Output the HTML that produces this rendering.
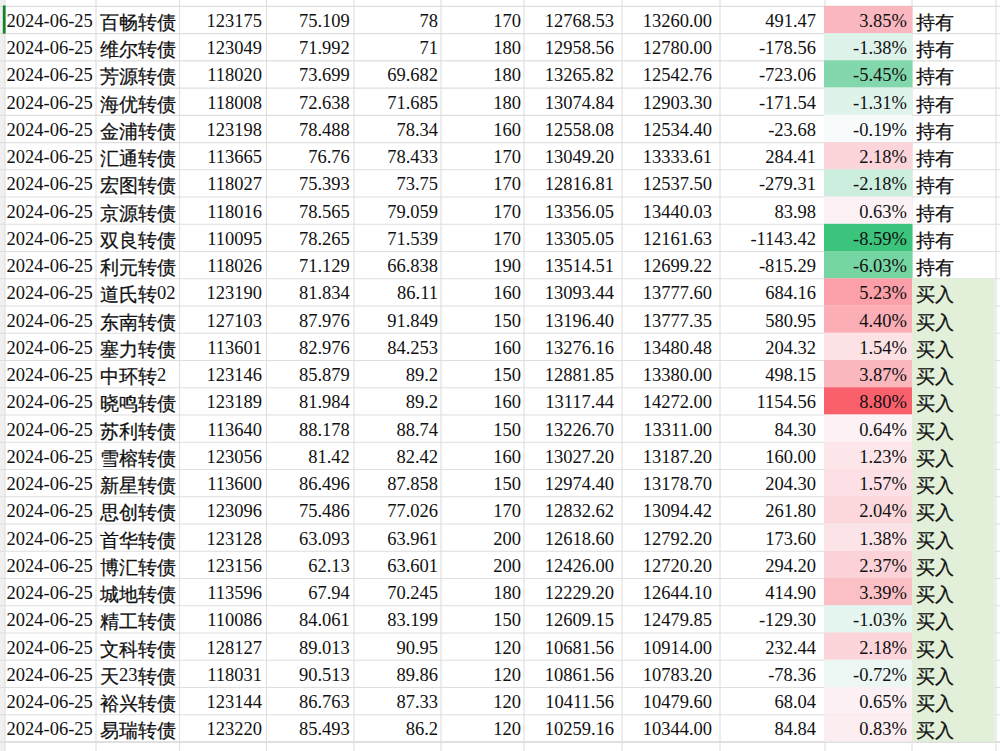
<!DOCTYPE html>
<html lang="en"><head><meta charset="utf-8">
<style>
html,body{margin:0;padding:0;background:#fff;}
body{width:1000px;height:751px;overflow:hidden;position:relative;font-family:"Liberation Serif",serif;font-size:18.5px;color:#111;}
svg{position:absolute;left:0;top:0;}
.t{position:absolute;white-space:nowrap;line-height:27px;height:27px;}
.r{text-align:right;}
.c{position:relative;top:2px;-webkit-text-stroke:0.25px #111}
</style></head><body>
<svg width="1000" height="751" viewBox="0 0 1000 751">
<rect x="0" y="0" width="5.0" height="751" fill="#f0f0f0"/>
<line x1="0" y1="6.34" x2="1000" y2="6.34" stroke="#dedede" stroke-width="1.1"/>
<line x1="0" y1="33.59" x2="1000" y2="33.59" stroke="#dedede" stroke-width="1.1"/>
<line x1="0" y1="60.83" x2="1000" y2="60.83" stroke="#dedede" stroke-width="1.1"/>
<line x1="0" y1="88.08" x2="1000" y2="88.08" stroke="#dedede" stroke-width="1.1"/>
<line x1="0" y1="115.33" x2="1000" y2="115.33" stroke="#dedede" stroke-width="1.1"/>
<line x1="0" y1="142.58" x2="1000" y2="142.58" stroke="#dedede" stroke-width="1.1"/>
<line x1="0" y1="169.82" x2="1000" y2="169.82" stroke="#dedede" stroke-width="1.1"/>
<line x1="0" y1="197.07" x2="1000" y2="197.07" stroke="#dedede" stroke-width="1.1"/>
<line x1="0" y1="224.32" x2="1000" y2="224.32" stroke="#dedede" stroke-width="1.1"/>
<line x1="0" y1="251.56" x2="1000" y2="251.56" stroke="#dedede" stroke-width="1.1"/>
<line x1="0" y1="278.81" x2="1000" y2="278.81" stroke="#dedede" stroke-width="1.1"/>
<line x1="0" y1="306.06" x2="1000" y2="306.06" stroke="#dedede" stroke-width="1.1"/>
<line x1="0" y1="333.30" x2="1000" y2="333.30" stroke="#dedede" stroke-width="1.1"/>
<line x1="0" y1="360.55" x2="1000" y2="360.55" stroke="#dedede" stroke-width="1.1"/>
<line x1="0" y1="387.80" x2="1000" y2="387.80" stroke="#dedede" stroke-width="1.1"/>
<line x1="0" y1="415.04" x2="1000" y2="415.04" stroke="#dedede" stroke-width="1.1"/>
<line x1="0" y1="442.29" x2="1000" y2="442.29" stroke="#dedede" stroke-width="1.1"/>
<line x1="0" y1="469.54" x2="1000" y2="469.54" stroke="#dedede" stroke-width="1.1"/>
<line x1="0" y1="496.79" x2="1000" y2="496.79" stroke="#dedede" stroke-width="1.1"/>
<line x1="0" y1="524.03" x2="1000" y2="524.03" stroke="#dedede" stroke-width="1.1"/>
<line x1="0" y1="551.28" x2="1000" y2="551.28" stroke="#dedede" stroke-width="1.1"/>
<line x1="0" y1="578.53" x2="1000" y2="578.53" stroke="#dedede" stroke-width="1.1"/>
<line x1="0" y1="605.77" x2="1000" y2="605.77" stroke="#dedede" stroke-width="1.1"/>
<line x1="0" y1="633.02" x2="1000" y2="633.02" stroke="#dedede" stroke-width="1.1"/>
<line x1="0" y1="660.27" x2="1000" y2="660.27" stroke="#dedede" stroke-width="1.1"/>
<line x1="0" y1="687.51" x2="1000" y2="687.51" stroke="#dedede" stroke-width="1.1"/>
<line x1="0" y1="714.76" x2="1000" y2="714.76" stroke="#dedede" stroke-width="1.1"/>
<line x1="0" y1="742.01" x2="1000" y2="742.01" stroke="#dedede" stroke-width="1.1"/>
<line x1="5.0" y1="0" x2="5.0" y2="751" stroke="#dedede" stroke-width="1.1"/>
<line x1="96.0" y1="0" x2="96.0" y2="751" stroke="#dedede" stroke-width="1.1"/>
<line x1="179.5" y1="0" x2="179.5" y2="751" stroke="#dedede" stroke-width="1.1"/>
<line x1="266.5" y1="0" x2="266.5" y2="751" stroke="#dedede" stroke-width="1.1"/>
<line x1="354.0" y1="0" x2="354.0" y2="751" stroke="#dedede" stroke-width="1.1"/>
<line x1="441.0" y1="0" x2="441.0" y2="751" stroke="#dedede" stroke-width="1.1"/>
<line x1="524.0" y1="0" x2="524.0" y2="751" stroke="#dedede" stroke-width="1.1"/>
<line x1="622.0" y1="0" x2="622.0" y2="751" stroke="#dedede" stroke-width="1.1"/>
<line x1="720.0" y1="0" x2="720.0" y2="751" stroke="#dedede" stroke-width="1.1"/>
<line x1="825.0" y1="0" x2="825.0" y2="751" stroke="#dedede" stroke-width="1.1"/>
<line x1="912.0" y1="0" x2="912.0" y2="751" stroke="#dedede" stroke-width="1.1"/>
<line x1="996.0" y1="0" x2="996.0" y2="751" stroke="#dedede" stroke-width="1.1"/>
<line x1="0" y1="742.01" x2="1000" y2="742.01" stroke="#e0e0e0" stroke-width="1.8"/>
<rect x="824.0" y="5.84" width="88.5" height="27.25" fill="rgb(251, 183, 191)"/>
<rect x="824.0" y="33.09" width="88.5" height="27.25" fill="rgb(221, 243, 234)"/>
<rect x="824.0" y="60.33" width="88.5" height="27.25" fill="rgb(130, 216, 172)"/>
<rect x="824.0" y="87.58" width="88.5" height="27.25" fill="rgb(223, 243, 235)"/>
<rect x="824.0" y="114.83" width="88.5" height="27.25" fill="rgb(248, 251, 252)"/>
<rect x="824.0" y="142.08" width="88.5" height="27.25" fill="rgb(252, 213, 219)"/>
<rect x="824.0" y="169.32" width="88.5" height="27.25" fill="rgb(203, 238, 222)"/>
<rect x="824.0" y="196.57" width="88.5" height="27.25" fill="rgb(252, 241, 244)"/>
<rect x="824.0" y="223.82" width="88.5" height="27.25" fill="rgb(60, 196, 124)"/>
<rect x="824.0" y="251.06" width="88.5" height="27.25" fill="rgb(117, 213, 163)"/>
<rect x="824.0" y="278.31" width="88.5" height="27.25" fill="rgb(251, 159, 168)"/>
<rect x="824.0" y="305.56" width="88.5" height="27.25" fill="rgb(251, 174, 182)"/>
<rect x="824.0" y="332.80" width="88.5" height="27.25" fill="rgb(252, 225, 229)"/>
<rect x="824.0" y="360.05" width="88.5" height="27.25" fill="rgb(251, 183, 190)"/>
<rect x="824.0" y="387.30" width="88.5" height="27.25" fill="rgb(250, 95, 108)"/>
<rect x="824.0" y="414.54" width="88.5" height="27.25" fill="rgb(252, 241, 244)"/>
<rect x="824.0" y="441.79" width="88.5" height="27.25" fill="rgb(252, 230, 234)"/>
<rect x="824.0" y="469.04" width="88.5" height="27.25" fill="rgb(252, 224, 229)"/>
<rect x="824.0" y="496.29" width="88.5" height="27.25" fill="rgb(252, 216, 221)"/>
<rect x="824.0" y="523.53" width="88.5" height="27.25" fill="rgb(252, 227, 232)"/>
<rect x="824.0" y="550.78" width="88.5" height="27.25" fill="rgb(251, 210, 215)"/>
<rect x="824.0" y="578.03" width="88.5" height="27.25" fill="rgb(251, 192, 198)"/>
<rect x="824.0" y="605.27" width="88.5" height="27.25" fill="rgb(229, 245, 239)"/>
<rect x="824.0" y="632.52" width="88.5" height="27.25" fill="rgb(252, 213, 219)"/>
<rect x="824.0" y="659.77" width="88.5" height="27.25" fill="rgb(236, 247, 244)"/>
<rect x="824.0" y="687.01" width="88.5" height="27.25" fill="rgb(252, 240, 244)"/>
<rect x="824.0" y="714.26" width="88.5" height="27.25" fill="rgb(252, 237, 241)"/>
<rect x="912.0" y="278.31" width="82.79999999999995" height="463.20" fill="#e2f0d9"/>
<rect x="2.8" y="5.54" width="2.8" height="28.047" fill="#15822a"/>
</svg>
<div class="t" style="top:8.00px;left:6.5px">2024-06-25</div>
<div class="t" style="top:8.00px;left:100px"><span class="c">百畅转债</span></div>
<div class="t r" style="top:8.00px;right:738.05px">123175</div>
<div class="t r" style="top:8.00px;right:650.20px">75.109</div>
<div class="t r" style="top:8.00px;right:562.00px">78</div>
<div class="t r" style="top:8.00px;right:478.90px">170</div>
<div class="t r" style="top:8.00px;right:386.00px">12768.53</div>
<div class="t r" style="top:8.00px;right:288.00px">13260.00</div>
<div class="t r" style="top:8.00px;right:184.00px">491.47</div>
<div class="t r" style="top:8.00px;right:93.00px">3.85%</div>
<div class="t" style="top:8.00px;left:915.5px"><span class="c">持有</span></div>
<div class="t" style="top:35.00px;left:6.5px">2024-06-25</div>
<div class="t" style="top:35.00px;left:100px"><span class="c">维尔转债</span></div>
<div class="t r" style="top:35.00px;right:738.05px">123049</div>
<div class="t r" style="top:35.00px;right:650.20px">71.992</div>
<div class="t r" style="top:35.00px;right:562.00px">71</div>
<div class="t r" style="top:35.00px;right:478.90px">180</div>
<div class="t r" style="top:35.00px;right:386.00px">12958.56</div>
<div class="t r" style="top:35.00px;right:288.00px">12780.00</div>
<div class="t r" style="top:35.00px;right:184.00px">-178.56</div>
<div class="t r" style="top:35.00px;right:93.00px">-1.38%</div>
<div class="t" style="top:35.00px;left:915.5px"><span class="c">持有</span></div>
<div class="t" style="top:62.00px;left:6.5px">2024-06-25</div>
<div class="t" style="top:62.00px;left:100px"><span class="c">芳源转债</span></div>
<div class="t r" style="top:62.00px;right:738.05px">118020</div>
<div class="t r" style="top:62.00px;right:650.20px">73.699</div>
<div class="t r" style="top:62.00px;right:562.00px">69.682</div>
<div class="t r" style="top:62.00px;right:478.90px">180</div>
<div class="t r" style="top:62.00px;right:386.00px">13265.82</div>
<div class="t r" style="top:62.00px;right:288.00px">12542.76</div>
<div class="t r" style="top:62.00px;right:184.00px">-723.06</div>
<div class="t r" style="top:62.00px;right:93.00px">-5.45%</div>
<div class="t" style="top:62.00px;left:915.5px"><span class="c">持有</span></div>
<div class="t" style="top:90.00px;left:6.5px">2024-06-25</div>
<div class="t" style="top:90.00px;left:100px"><span class="c">海优转债</span></div>
<div class="t r" style="top:90.00px;right:738.05px">118008</div>
<div class="t r" style="top:90.00px;right:650.20px">72.638</div>
<div class="t r" style="top:90.00px;right:562.00px">71.685</div>
<div class="t r" style="top:90.00px;right:478.90px">180</div>
<div class="t r" style="top:90.00px;right:386.00px">13074.84</div>
<div class="t r" style="top:90.00px;right:288.00px">12903.30</div>
<div class="t r" style="top:90.00px;right:184.00px">-171.54</div>
<div class="t r" style="top:90.00px;right:93.00px">-1.31%</div>
<div class="t" style="top:90.00px;left:915.5px"><span class="c">持有</span></div>
<div class="t" style="top:117.00px;left:6.5px">2024-06-25</div>
<div class="t" style="top:117.00px;left:100px"><span class="c">金浦转债</span></div>
<div class="t r" style="top:117.00px;right:738.05px">123198</div>
<div class="t r" style="top:117.00px;right:650.20px">78.488</div>
<div class="t r" style="top:117.00px;right:562.00px">78.34</div>
<div class="t r" style="top:117.00px;right:478.90px">160</div>
<div class="t r" style="top:117.00px;right:386.00px">12558.08</div>
<div class="t r" style="top:117.00px;right:288.00px">12534.40</div>
<div class="t r" style="top:117.00px;right:184.00px">-23.68</div>
<div class="t r" style="top:117.00px;right:93.00px">-0.19%</div>
<div class="t" style="top:117.00px;left:915.5px"><span class="c">持有</span></div>
<div class="t" style="top:144.00px;left:6.5px">2024-06-25</div>
<div class="t" style="top:144.00px;left:100px"><span class="c">汇通转债</span></div>
<div class="t r" style="top:144.00px;right:738.05px">113665</div>
<div class="t r" style="top:144.00px;right:650.20px">76.76</div>
<div class="t r" style="top:144.00px;right:562.00px">78.433</div>
<div class="t r" style="top:144.00px;right:478.90px">170</div>
<div class="t r" style="top:144.00px;right:386.00px">13049.20</div>
<div class="t r" style="top:144.00px;right:288.00px">13333.61</div>
<div class="t r" style="top:144.00px;right:184.00px">284.41</div>
<div class="t r" style="top:144.00px;right:93.00px">2.18%</div>
<div class="t" style="top:144.00px;left:915.5px"><span class="c">持有</span></div>
<div class="t" style="top:171.00px;left:6.5px">2024-06-25</div>
<div class="t" style="top:171.00px;left:100px"><span class="c">宏图转债</span></div>
<div class="t r" style="top:171.00px;right:738.05px">118027</div>
<div class="t r" style="top:171.00px;right:650.20px">75.393</div>
<div class="t r" style="top:171.00px;right:562.00px">73.75</div>
<div class="t r" style="top:171.00px;right:478.90px">170</div>
<div class="t r" style="top:171.00px;right:386.00px">12816.81</div>
<div class="t r" style="top:171.00px;right:288.00px">12537.50</div>
<div class="t r" style="top:171.00px;right:184.00px">-279.31</div>
<div class="t r" style="top:171.00px;right:93.00px">-2.18%</div>
<div class="t" style="top:171.00px;left:915.5px"><span class="c">持有</span></div>
<div class="t" style="top:199.00px;left:6.5px">2024-06-25</div>
<div class="t" style="top:199.00px;left:100px"><span class="c">京源转债</span></div>
<div class="t r" style="top:199.00px;right:738.05px">118016</div>
<div class="t r" style="top:199.00px;right:650.20px">78.565</div>
<div class="t r" style="top:199.00px;right:562.00px">79.059</div>
<div class="t r" style="top:199.00px;right:478.90px">170</div>
<div class="t r" style="top:199.00px;right:386.00px">13356.05</div>
<div class="t r" style="top:199.00px;right:288.00px">13440.03</div>
<div class="t r" style="top:199.00px;right:184.00px">83.98</div>
<div class="t r" style="top:199.00px;right:93.00px">0.63%</div>
<div class="t" style="top:199.00px;left:915.5px"><span class="c">持有</span></div>
<div class="t" style="top:226.00px;left:6.5px">2024-06-25</div>
<div class="t" style="top:226.00px;left:100px"><span class="c">双良转债</span></div>
<div class="t r" style="top:226.00px;right:738.05px">110095</div>
<div class="t r" style="top:226.00px;right:650.20px">78.265</div>
<div class="t r" style="top:226.00px;right:562.00px">71.539</div>
<div class="t r" style="top:226.00px;right:478.90px">170</div>
<div class="t r" style="top:226.00px;right:386.00px">13305.05</div>
<div class="t r" style="top:226.00px;right:288.00px">12161.63</div>
<div class="t r" style="top:226.00px;right:184.00px">-1143.42</div>
<div class="t r" style="top:226.00px;right:93.00px">-8.59%</div>
<div class="t" style="top:226.00px;left:915.5px"><span class="c">持有</span></div>
<div class="t" style="top:253.00px;left:6.5px">2024-06-25</div>
<div class="t" style="top:253.00px;left:100px"><span class="c">利元转债</span></div>
<div class="t r" style="top:253.00px;right:738.05px">118026</div>
<div class="t r" style="top:253.00px;right:650.20px">71.129</div>
<div class="t r" style="top:253.00px;right:562.00px">66.838</div>
<div class="t r" style="top:253.00px;right:478.90px">190</div>
<div class="t r" style="top:253.00px;right:386.00px">13514.51</div>
<div class="t r" style="top:253.00px;right:288.00px">12699.22</div>
<div class="t r" style="top:253.00px;right:184.00px">-815.29</div>
<div class="t r" style="top:253.00px;right:93.00px">-6.03%</div>
<div class="t" style="top:253.00px;left:915.5px"><span class="c">持有</span></div>
<div class="t" style="top:280.00px;left:6.5px">2024-06-25</div>
<div class="t" style="top:280.00px;left:100px"><span class="c">道氏转</span>02</div>
<div class="t r" style="top:280.00px;right:738.05px">123190</div>
<div class="t r" style="top:280.00px;right:650.20px">81.834</div>
<div class="t r" style="top:280.00px;right:562.00px">86.11</div>
<div class="t r" style="top:280.00px;right:478.90px">160</div>
<div class="t r" style="top:280.00px;right:386.00px">13093.44</div>
<div class="t r" style="top:280.00px;right:288.00px">13777.60</div>
<div class="t r" style="top:280.00px;right:184.00px">684.16</div>
<div class="t r" style="top:280.00px;right:93.00px">5.23%</div>
<div class="t" style="top:280.00px;left:915.5px"><span class="c">买入</span></div>
<div class="t" style="top:308.00px;left:6.5px">2024-06-25</div>
<div class="t" style="top:308.00px;left:100px"><span class="c">东南转债</span></div>
<div class="t r" style="top:308.00px;right:738.05px">127103</div>
<div class="t r" style="top:308.00px;right:650.20px">87.976</div>
<div class="t r" style="top:308.00px;right:562.00px">91.849</div>
<div class="t r" style="top:308.00px;right:478.90px">150</div>
<div class="t r" style="top:308.00px;right:386.00px">13196.40</div>
<div class="t r" style="top:308.00px;right:288.00px">13777.35</div>
<div class="t r" style="top:308.00px;right:184.00px">580.95</div>
<div class="t r" style="top:308.00px;right:93.00px">4.40%</div>
<div class="t" style="top:308.00px;left:915.5px"><span class="c">买入</span></div>
<div class="t" style="top:335.00px;left:6.5px">2024-06-25</div>
<div class="t" style="top:335.00px;left:100px"><span class="c">塞力转债</span></div>
<div class="t r" style="top:335.00px;right:738.05px">113601</div>
<div class="t r" style="top:335.00px;right:650.20px">82.976</div>
<div class="t r" style="top:335.00px;right:562.00px">84.253</div>
<div class="t r" style="top:335.00px;right:478.90px">160</div>
<div class="t r" style="top:335.00px;right:386.00px">13276.16</div>
<div class="t r" style="top:335.00px;right:288.00px">13480.48</div>
<div class="t r" style="top:335.00px;right:184.00px">204.32</div>
<div class="t r" style="top:335.00px;right:93.00px">1.54%</div>
<div class="t" style="top:335.00px;left:915.5px"><span class="c">买入</span></div>
<div class="t" style="top:362.00px;left:6.5px">2024-06-25</div>
<div class="t" style="top:362.00px;left:100px"><span class="c">中环转</span>2</div>
<div class="t r" style="top:362.00px;right:738.05px">123146</div>
<div class="t r" style="top:362.00px;right:650.20px">85.879</div>
<div class="t r" style="top:362.00px;right:562.00px">89.2</div>
<div class="t r" style="top:362.00px;right:478.90px">150</div>
<div class="t r" style="top:362.00px;right:386.00px">12881.85</div>
<div class="t r" style="top:362.00px;right:288.00px">13380.00</div>
<div class="t r" style="top:362.00px;right:184.00px">498.15</div>
<div class="t r" style="top:362.00px;right:93.00px">3.87%</div>
<div class="t" style="top:362.00px;left:915.5px"><span class="c">买入</span></div>
<div class="t" style="top:389.00px;left:6.5px">2024-06-25</div>
<div class="t" style="top:389.00px;left:100px"><span class="c">晓鸣转债</span></div>
<div class="t r" style="top:389.00px;right:738.05px">123189</div>
<div class="t r" style="top:389.00px;right:650.20px">81.984</div>
<div class="t r" style="top:389.00px;right:562.00px">89.2</div>
<div class="t r" style="top:389.00px;right:478.90px">160</div>
<div class="t r" style="top:389.00px;right:386.00px">13117.44</div>
<div class="t r" style="top:389.00px;right:288.00px">14272.00</div>
<div class="t r" style="top:389.00px;right:184.00px">1154.56</div>
<div class="t r" style="top:389.00px;right:93.00px">8.80%</div>
<div class="t" style="top:389.00px;left:915.5px"><span class="c">买入</span></div>
<div class="t" style="top:417.00px;left:6.5px">2024-06-25</div>
<div class="t" style="top:417.00px;left:100px"><span class="c">苏利转债</span></div>
<div class="t r" style="top:417.00px;right:738.05px">113640</div>
<div class="t r" style="top:417.00px;right:650.20px">88.178</div>
<div class="t r" style="top:417.00px;right:562.00px">88.74</div>
<div class="t r" style="top:417.00px;right:478.90px">150</div>
<div class="t r" style="top:417.00px;right:386.00px">13226.70</div>
<div class="t r" style="top:417.00px;right:288.00px">13311.00</div>
<div class="t r" style="top:417.00px;right:184.00px">84.30</div>
<div class="t r" style="top:417.00px;right:93.00px">0.64%</div>
<div class="t" style="top:417.00px;left:915.5px"><span class="c">买入</span></div>
<div class="t" style="top:444.00px;left:6.5px">2024-06-25</div>
<div class="t" style="top:444.00px;left:100px"><span class="c">雪榕转债</span></div>
<div class="t r" style="top:444.00px;right:738.05px">123056</div>
<div class="t r" style="top:444.00px;right:650.20px">81.42</div>
<div class="t r" style="top:444.00px;right:562.00px">82.42</div>
<div class="t r" style="top:444.00px;right:478.90px">160</div>
<div class="t r" style="top:444.00px;right:386.00px">13027.20</div>
<div class="t r" style="top:444.00px;right:288.00px">13187.20</div>
<div class="t r" style="top:444.00px;right:184.00px">160.00</div>
<div class="t r" style="top:444.00px;right:93.00px">1.23%</div>
<div class="t" style="top:444.00px;left:915.5px"><span class="c">买入</span></div>
<div class="t" style="top:471.00px;left:6.5px">2024-06-25</div>
<div class="t" style="top:471.00px;left:100px"><span class="c">新星转债</span></div>
<div class="t r" style="top:471.00px;right:738.05px">113600</div>
<div class="t r" style="top:471.00px;right:650.20px">86.496</div>
<div class="t r" style="top:471.00px;right:562.00px">87.858</div>
<div class="t r" style="top:471.00px;right:478.90px">150</div>
<div class="t r" style="top:471.00px;right:386.00px">12974.40</div>
<div class="t r" style="top:471.00px;right:288.00px">13178.70</div>
<div class="t r" style="top:471.00px;right:184.00px">204.30</div>
<div class="t r" style="top:471.00px;right:93.00px">1.57%</div>
<div class="t" style="top:471.00px;left:915.5px"><span class="c">买入</span></div>
<div class="t" style="top:498.00px;left:6.5px">2024-06-25</div>
<div class="t" style="top:498.00px;left:100px"><span class="c">思创转债</span></div>
<div class="t r" style="top:498.00px;right:738.05px">123096</div>
<div class="t r" style="top:498.00px;right:650.20px">75.486</div>
<div class="t r" style="top:498.00px;right:562.00px">77.026</div>
<div class="t r" style="top:498.00px;right:478.90px">170</div>
<div class="t r" style="top:498.00px;right:386.00px">12832.62</div>
<div class="t r" style="top:498.00px;right:288.00px">13094.42</div>
<div class="t r" style="top:498.00px;right:184.00px">261.80</div>
<div class="t r" style="top:498.00px;right:93.00px">2.04%</div>
<div class="t" style="top:498.00px;left:915.5px"><span class="c">买入</span></div>
<div class="t" style="top:526.00px;left:6.5px">2024-06-25</div>
<div class="t" style="top:526.00px;left:100px"><span class="c">首华转债</span></div>
<div class="t r" style="top:526.00px;right:738.05px">123128</div>
<div class="t r" style="top:526.00px;right:650.20px">63.093</div>
<div class="t r" style="top:526.00px;right:562.00px">63.961</div>
<div class="t r" style="top:526.00px;right:478.90px">200</div>
<div class="t r" style="top:526.00px;right:386.00px">12618.60</div>
<div class="t r" style="top:526.00px;right:288.00px">12792.20</div>
<div class="t r" style="top:526.00px;right:184.00px">173.60</div>
<div class="t r" style="top:526.00px;right:93.00px">1.38%</div>
<div class="t" style="top:526.00px;left:915.5px"><span class="c">买入</span></div>
<div class="t" style="top:553.00px;left:6.5px">2024-06-25</div>
<div class="t" style="top:553.00px;left:100px"><span class="c">博汇转债</span></div>
<div class="t r" style="top:553.00px;right:738.05px">123156</div>
<div class="t r" style="top:553.00px;right:650.20px">62.13</div>
<div class="t r" style="top:553.00px;right:562.00px">63.601</div>
<div class="t r" style="top:553.00px;right:478.90px">200</div>
<div class="t r" style="top:553.00px;right:386.00px">12426.00</div>
<div class="t r" style="top:553.00px;right:288.00px">12720.20</div>
<div class="t r" style="top:553.00px;right:184.00px">294.20</div>
<div class="t r" style="top:553.00px;right:93.00px">2.37%</div>
<div class="t" style="top:553.00px;left:915.5px"><span class="c">买入</span></div>
<div class="t" style="top:580.00px;left:6.5px">2024-06-25</div>
<div class="t" style="top:580.00px;left:100px"><span class="c">城地转债</span></div>
<div class="t r" style="top:580.00px;right:738.05px">113596</div>
<div class="t r" style="top:580.00px;right:650.20px">67.94</div>
<div class="t r" style="top:580.00px;right:562.00px">70.245</div>
<div class="t r" style="top:580.00px;right:478.90px">180</div>
<div class="t r" style="top:580.00px;right:386.00px">12229.20</div>
<div class="t r" style="top:580.00px;right:288.00px">12644.10</div>
<div class="t r" style="top:580.00px;right:184.00px">414.90</div>
<div class="t r" style="top:580.00px;right:93.00px">3.39%</div>
<div class="t" style="top:580.00px;left:915.5px"><span class="c">买入</span></div>
<div class="t" style="top:607.00px;left:6.5px">2024-06-25</div>
<div class="t" style="top:607.00px;left:100px"><span class="c">精工转债</span></div>
<div class="t r" style="top:607.00px;right:738.05px">110086</div>
<div class="t r" style="top:607.00px;right:650.20px">84.061</div>
<div class="t r" style="top:607.00px;right:562.00px">83.199</div>
<div class="t r" style="top:607.00px;right:478.90px">150</div>
<div class="t r" style="top:607.00px;right:386.00px">12609.15</div>
<div class="t r" style="top:607.00px;right:288.00px">12479.85</div>
<div class="t r" style="top:607.00px;right:184.00px">-129.30</div>
<div class="t r" style="top:607.00px;right:93.00px">-1.03%</div>
<div class="t" style="top:607.00px;left:915.5px"><span class="c">买入</span></div>
<div class="t" style="top:635.00px;left:6.5px">2024-06-25</div>
<div class="t" style="top:635.00px;left:100px"><span class="c">文科转债</span></div>
<div class="t r" style="top:635.00px;right:738.05px">128127</div>
<div class="t r" style="top:635.00px;right:650.20px">89.013</div>
<div class="t r" style="top:635.00px;right:562.00px">90.95</div>
<div class="t r" style="top:635.00px;right:478.90px">120</div>
<div class="t r" style="top:635.00px;right:386.00px">10681.56</div>
<div class="t r" style="top:635.00px;right:288.00px">10914.00</div>
<div class="t r" style="top:635.00px;right:184.00px">232.44</div>
<div class="t r" style="top:635.00px;right:93.00px">2.18%</div>
<div class="t" style="top:635.00px;left:915.5px"><span class="c">买入</span></div>
<div class="t" style="top:662.00px;left:6.5px">2024-06-25</div>
<div class="t" style="top:662.00px;left:100px"><span class="c">天</span>23<span class="c">转债</span></div>
<div class="t r" style="top:662.00px;right:738.05px">118031</div>
<div class="t r" style="top:662.00px;right:650.20px">90.513</div>
<div class="t r" style="top:662.00px;right:562.00px">89.86</div>
<div class="t r" style="top:662.00px;right:478.90px">120</div>
<div class="t r" style="top:662.00px;right:386.00px">10861.56</div>
<div class="t r" style="top:662.00px;right:288.00px">10783.20</div>
<div class="t r" style="top:662.00px;right:184.00px">-78.36</div>
<div class="t r" style="top:662.00px;right:93.00px">-0.72%</div>
<div class="t" style="top:662.00px;left:915.5px"><span class="c">买入</span></div>
<div class="t" style="top:689.00px;left:6.5px">2024-06-25</div>
<div class="t" style="top:689.00px;left:100px"><span class="c">裕兴转债</span></div>
<div class="t r" style="top:689.00px;right:738.05px">123144</div>
<div class="t r" style="top:689.00px;right:650.20px">86.763</div>
<div class="t r" style="top:689.00px;right:562.00px">87.33</div>
<div class="t r" style="top:689.00px;right:478.90px">120</div>
<div class="t r" style="top:689.00px;right:386.00px">10411.56</div>
<div class="t r" style="top:689.00px;right:288.00px">10479.60</div>
<div class="t r" style="top:689.00px;right:184.00px">68.04</div>
<div class="t r" style="top:689.00px;right:93.00px">0.65%</div>
<div class="t" style="top:689.00px;left:915.5px"><span class="c">买入</span></div>
<div class="t" style="top:716.00px;left:6.5px">2024-06-25</div>
<div class="t" style="top:716.00px;left:100px"><span class="c">易瑞转债</span></div>
<div class="t r" style="top:716.00px;right:738.05px">123220</div>
<div class="t r" style="top:716.00px;right:650.20px">85.493</div>
<div class="t r" style="top:716.00px;right:562.00px">86.2</div>
<div class="t r" style="top:716.00px;right:478.90px">120</div>
<div class="t r" style="top:716.00px;right:386.00px">10259.16</div>
<div class="t r" style="top:716.00px;right:288.00px">10344.00</div>
<div class="t r" style="top:716.00px;right:184.00px">84.84</div>
<div class="t r" style="top:716.00px;right:93.00px">0.83%</div>
<div class="t" style="top:716.00px;left:915.5px"><span class="c">买入</span></div>
</body></html>
